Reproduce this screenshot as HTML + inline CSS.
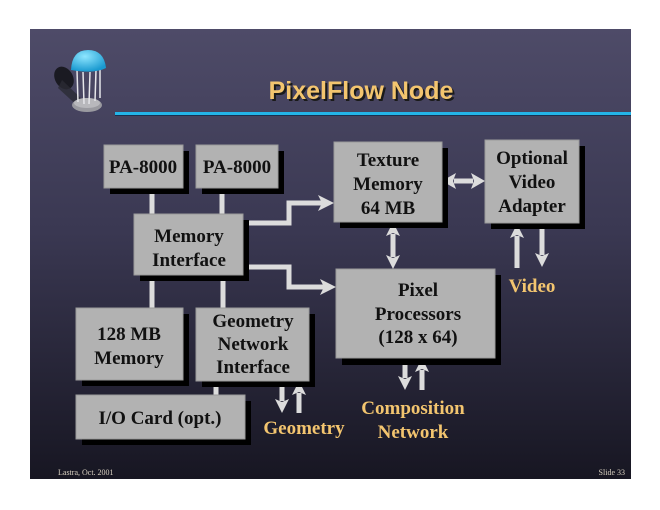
<!DOCTYPE html>
<html><head><meta charset="utf-8"><style>
html,body{margin:0;padding:0;background:#fff;}
svg{display:block;}
</style></head><body>
<svg width="660" height="510" viewBox="0 0 660 510" xmlns="http://www.w3.org/2000/svg">
<defs>
<linearGradient id="bg" x1="0" y1="0" x2="0" y2="1">
<stop offset="0" stop-color="#4e4b68"/>
<stop offset="0.45" stop-color="#3a3852"/>
<stop offset="1" stop-color="#171622"/>
</linearGradient>
<radialGradient id="dome" cx="0.4" cy="0.3" r="0.7">
<stop offset="0" stop-color="#8ee6ff"/>
<stop offset="1" stop-color="#1a9ad0"/>
</radialGradient>
</defs>
<rect x="30" y="29" width="601" height="450" fill="url(#bg)"/>
<ellipse cx="64" cy="78" rx="9" ry="12" fill="#1a1a22" transform="rotate(-30 64 78)"/>
<path d="M62 80 L88 105 L82 110 L58 88Z" fill="#2a2a34" opacity="0.8"/>
<ellipse cx="87" cy="105" rx="15" ry="7" fill="#9a9aa0"/>
<ellipse cx="87" cy="103" rx="13" ry="5" fill="#b8b8bc"/>
<g stroke="#e6e6ea" stroke-width="1.5">
<line x1="77" y1="70" x2="78" y2="102"/><line x1="83" y1="72" x2="84" y2="104"/>
<line x1="90" y1="72" x2="89" y2="104"/><line x1="96" y1="70" x2="95" y2="101"/>
<line x1="100" y1="68" x2="100" y2="98"/>
</g>
<path d="M71 70 Q72 50 88 50 Q104 50 106 68 Q95 74 71 70Z" fill="url(#dome)"/>
<text x="363" y="101" text-anchor="middle" font-family="Liberation Sans, sans-serif" font-weight="bold" font-size="25" fill="#1a1a1a">PixelFlow Node</text>
<text x="361" y="99" text-anchor="middle" font-family="Liberation Sans, sans-serif" font-weight="bold" font-size="25" fill="#f3c56f">PixelFlow Node</text>
<rect x="115" y="112" width="516" height="3" fill="#23b4e8"/>
<rect x="115" y="115" width="516" height="1" fill="#1a3050"/>
<g stroke="#dcdcdc" stroke-width="5" fill="none">
<line x1="152" y1="188" x2="152" y2="214"/>
<line x1="222" y1="188" x2="222" y2="214"/>
<line x1="152" y1="275" x2="152" y2="308"/>
<line x1="223" y1="275" x2="223" y2="308"/>
<line x1="216" y1="381" x2="216" y2="395"/>
<polyline points="243,223 289,223 289,203 322,203"/>
<polyline points="243,267 289,267 289,287 324,287"/>
<line x1="454" y1="181" x2="473" y2="181"/>
<line x1="393" y1="234" x2="393" y2="257"/>
<line x1="517" y1="236" x2="517" y2="268"/>
<line x1="542" y1="223" x2="542" y2="255"/>
<line x1="282" y1="381" x2="282" y2="401"/>
<line x1="299" y1="393" x2="299" y2="413"/>
<line x1="405" y1="358" x2="405" y2="378"/>
<line x1="422" y1="370" x2="422" y2="390"/>
</g>
<g fill="#dcdcdc">
<path d="M334,203 l-16,-8 4,8 -4,8z"/>
<path d="M336,287 l-16,-8 4,8 -4,8z"/>
<path d="M442,181 l14,-8 -3,8 3,8z"/>
<path d="M485,181 l-14,-8 3,8 -3,8z"/>
<path d="M393,222 l-7,14 7,-3 7,3z"/>
<path d="M393,269 l-7,-14 7,3 7,-3z"/>
<path d="M517,224 l-7,14 7,-3 7,3z"/>
<path d="M542,267 l-7,-14 7,3 7,-3z"/>
<path d="M282,413 l-7,-14 7,3 7,-3z"/>
<path d="M299,381 l-7,14 7,-3 7,3z"/>
<path d="M405,390 l-7,-14 7,3 7,-3z"/>
<path d="M422,358 l-7,14 7,-3 7,3z"/>
</g>
<g fill="#000">
<rect x="110" y="151" width="79" height="43"/>
<rect x="202" y="151" width="82" height="43"/>
<rect x="340" y="148" width="108" height="80"/>
<rect x="491" y="146" width="94" height="83"/>
<rect x="140" y="220" width="109" height="61"/>
<rect x="82" y="314" width="107" height="72"/>
<rect x="202" y="314" width="113" height="73"/>
<rect x="82" y="401" width="169" height="44"/>
<rect x="342" y="275" width="159" height="90"/>
</g>
<g fill="#b2b2b2" stroke="#9a9a9a" stroke-width="1">
<rect x="104" y="145" width="79" height="43"/>
<rect x="196" y="145" width="82" height="43"/>
<rect x="334" y="142" width="108" height="80"/>
<rect x="485" y="140" width="94" height="83"/>
<rect x="134" y="214" width="109" height="61"/>
<rect x="76" y="308" width="107" height="72"/>
<rect x="196" y="308" width="113" height="73"/>
<rect x="76" y="395" width="169" height="44"/>
<rect x="336" y="269" width="159" height="89"/>
</g>
<g font-family="Liberation Serif, serif" font-weight="bold" font-size="19" fill="#111" text-anchor="middle">
<text x="143" y="173">PA-8000</text>
<text x="237" y="173">PA-8000</text>
<text x="388" y="166">Texture</text>
<text x="388" y="190">Memory</text>
<text x="388" y="214">64 MB</text>
<text x="532" y="164">Optional</text>
<text x="532" y="188">Video</text>
<text x="532" y="212">Adapter</text>
<text x="189" y="242">Memory</text>
<text x="189" y="266">Interface</text>
<text x="129" y="340">128 MB</text>
<text x="129" y="364">Memory</text>
<text x="253" y="327">Geometry</text>
<text x="253" y="350">Network</text>
<text x="253" y="373">Interface</text>
<text x="160" y="424">I/O Card (opt.)</text>
<text x="418" y="296">Pixel</text>
<text x="418" y="320">Processors</text>
<text x="418" y="343">(128 x 64)</text>
</g>
<g font-family="Liberation Serif, serif" font-weight="bold" font-size="19" fill="#f3c56f" text-anchor="middle">
<text x="532" y="292">Video</text>
<text x="304" y="434">Geometry</text>
<text x="413" y="414">Composition</text>
<text x="413" y="438">Network</text>
</g>
<text x="58" y="475" font-family="Liberation Serif, serif" font-size="8" fill="#d8d0c0">Lastra, Oct. 2001</text>
<text x="625" y="475" text-anchor="end" font-family="Liberation Serif, serif" font-size="8" fill="#d8d0c0">Slide 33</text>
</svg>
</body></html>
